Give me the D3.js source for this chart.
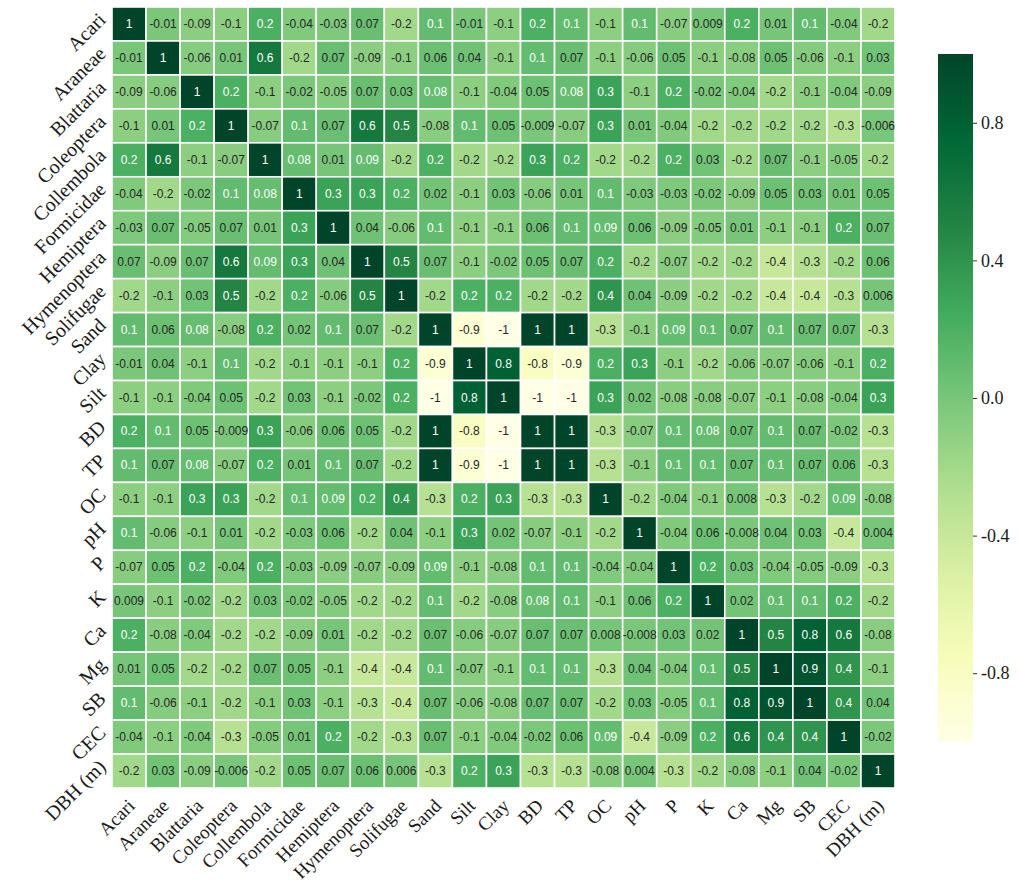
<!DOCTYPE html>
<html>
<head>
<meta charset="utf-8">
<script src="https://cdn.jsdelivr.net/npm/d3@7"></script>
<style>
  html, body { margin: 0; padding: 0; background: #ffffff; }
  svg { display: block; }
</style>
</head>
<body>
<svg id="chart" width="1020" height="894"></svg>
<script>
// ---- data ----
const xLabels = ["Acari","Araneae","Blattaria","Coleoptera","Collembola","Formicidae","Hemiptera","Hymenoptera","Solifugae","Sand","Silt","Clay","BD","TP","OC","pH","P","K","Ca","Mg","SB","CEC","DBH (m)"];
const yLabels = ["Acari","Araneae","Blattaria","Coleoptera","Collembola","Formicidae","Hemiptera","Hymenoptera","Solifugae","Sand","Clay","Silt","BD","TP","OC","pH","P","K","Ca","Mg","SB","CEC","DBH (m)"];
const corr = [
  [1,-0.01,-0.09,-0.1,0.2,-0.04,-0.03,0.07,-0.2,0.1,-0.01,-0.1,0.2,0.1,-0.1,0.1,-0.07,0.009,0.2,0.01,0.1,-0.04,-0.2],
  [-0.01,1,-0.06,0.01,0.6,-0.2,0.07,-0.09,-0.1,0.06,0.04,-0.1,0.1,0.07,-0.1,-0.06,0.05,-0.1,-0.08,0.05,-0.06,-0.1,0.03],
  [-0.09,-0.06,1,0.2,-0.1,-0.02,-0.05,0.07,0.03,0.08,-0.1,-0.04,0.05,0.08,0.3,-0.1,0.2,-0.02,-0.04,-0.2,-0.1,-0.04,-0.09],
  [-0.1,0.01,0.2,1,-0.07,0.1,0.07,0.6,0.5,-0.08,0.1,0.05,-0.009,-0.07,0.3,0.01,-0.04,-0.2,-0.2,-0.2,-0.2,-0.3,-0.006],
  [0.2,0.6,-0.1,-0.07,1,0.08,0.01,0.09,-0.2,0.2,-0.2,-0.2,0.3,0.2,-0.2,-0.2,0.2,0.03,-0.2,0.07,-0.1,-0.05,-0.2],
  [-0.04,-0.2,-0.02,0.1,0.08,1,0.3,0.3,0.2,0.02,-0.1,0.03,-0.06,0.01,0.1,-0.03,-0.03,-0.02,-0.09,0.05,0.03,0.01,0.05],
  [-0.03,0.07,-0.05,0.07,0.01,0.3,1,0.04,-0.06,0.1,-0.1,-0.1,0.06,0.1,0.09,0.06,-0.09,-0.05,0.01,-0.1,-0.1,0.2,0.07],
  [0.07,-0.09,0.07,0.6,0.09,0.3,0.04,1,0.5,0.07,-0.1,-0.02,0.05,0.07,0.2,-0.2,-0.07,-0.2,-0.2,-0.4,-0.3,-0.2,0.06],
  [-0.2,-0.1,0.03,0.5,-0.2,0.2,-0.06,0.5,1,-0.2,0.2,0.2,-0.2,-0.2,0.4,0.04,-0.09,-0.2,-0.2,-0.4,-0.4,-0.3,0.006],
  [0.1,0.06,0.08,-0.08,0.2,0.02,0.1,0.07,-0.2,1,-0.9,-1,1,1,-0.3,-0.1,0.09,0.1,0.07,0.1,0.07,0.07,-0.3],
  [-0.01,0.04,-0.1,0.1,-0.2,-0.1,-0.1,-0.1,0.2,-0.9,1,0.8,-0.8,-0.9,0.2,0.3,-0.1,-0.2,-0.06,-0.07,-0.06,-0.1,0.2],
  [-0.1,-0.1,-0.04,0.05,-0.2,0.03,-0.1,-0.02,0.2,-1,0.8,1,-1,-1,0.3,0.02,-0.08,-0.08,-0.07,-0.1,-0.08,-0.04,0.3],
  [0.2,0.1,0.05,-0.009,0.3,-0.06,0.06,0.05,-0.2,1,-0.8,-1,1,1,-0.3,-0.07,0.1,0.08,0.07,0.1,0.07,-0.02,-0.3],
  [0.1,0.07,0.08,-0.07,0.2,0.01,0.1,0.07,-0.2,1,-0.9,-1,1,1,-0.3,-0.1,0.1,0.1,0.07,0.1,0.07,0.06,-0.3],
  [-0.1,-0.1,0.3,0.3,-0.2,0.1,0.09,0.2,0.4,-0.3,0.2,0.3,-0.3,-0.3,1,-0.2,-0.04,-0.1,0.008,-0.3,-0.2,0.09,-0.08],
  [0.1,-0.06,-0.1,0.01,-0.2,-0.03,0.06,-0.2,0.04,-0.1,0.3,0.02,-0.07,-0.1,-0.2,1,-0.04,0.06,-0.008,0.04,0.03,-0.4,0.004],
  [-0.07,0.05,0.2,-0.04,0.2,-0.03,-0.09,-0.07,-0.09,0.09,-0.1,-0.08,0.1,0.1,-0.04,-0.04,1,0.2,0.03,-0.04,-0.05,-0.09,-0.3],
  [0.009,-0.1,-0.02,-0.2,0.03,-0.02,-0.05,-0.2,-0.2,0.1,-0.2,-0.08,0.08,0.1,-0.1,0.06,0.2,1,0.02,0.1,0.1,0.2,-0.2],
  [0.2,-0.08,-0.04,-0.2,-0.2,-0.09,0.01,-0.2,-0.2,0.07,-0.06,-0.07,0.07,0.07,0.008,-0.008,0.03,0.02,1,0.5,0.8,0.6,-0.08],
  [0.01,0.05,-0.2,-0.2,0.07,0.05,-0.1,-0.4,-0.4,0.1,-0.07,-0.1,0.1,0.1,-0.3,0.04,-0.04,0.1,0.5,1,0.9,0.4,-0.1],
  [0.1,-0.06,-0.1,-0.2,-0.1,0.03,-0.1,-0.3,-0.4,0.07,-0.06,-0.08,0.07,0.07,-0.2,0.03,-0.05,0.1,0.8,0.9,1,0.4,0.04],
  [-0.04,-0.1,-0.04,-0.3,-0.05,0.01,0.2,-0.2,-0.3,0.07,-0.1,-0.04,-0.02,0.06,0.09,-0.4,-0.09,0.2,0.6,0.4,0.4,1,-0.02],
  [-0.2,0.03,-0.09,-0.006,-0.2,0.05,0.07,0.06,0.006,-0.3,0.2,0.3,-0.3,-0.3,-0.08,0.004,-0.3,-0.2,-0.08,-0.1,0.04,-0.02,1]
];
const colorbarTicks = [-0.8, -0.4, 0.0, 0.4, 0.8];

// ---- layout ----
const gridLeft = 112, gridRight = 895, gridTop = 7, gridBottom = 788;
const cbLeft = 938, cbWidth = 35, cbTop = 54, cbBottom = 742;

const svg = d3.select("#chart");

const x = d3.scaleBand().domain(xLabels.map((d, i) => i)).range([gridLeft, gridRight]);
const y = d3.scaleBand().domain(yLabels.map((d, i) => i)).range([gridTop, gridBottom]);

const ylgn = d3.schemeYlGn[9];
const color = d3.scaleLinear()
  .domain(d3.range(9).map(i => -1 + i * 0.25))
  .range(ylgn)
  .clamp(true);

const cells = [];
corr.forEach((row, ri) => row.forEach((v, ci) => cells.push({ ri, ci, v })));

const g = svg.append("g");
g.selectAll("rect.cell").data(cells).join("rect")
  .attr("class", "cell")
  .attr("x", d => x(d.ci))
  .attr("y", d => y(d.ri))
  .attr("width", x.bandwidth())
  .attr("height", y.bandwidth())
  .attr("fill", d => color(d.v))
  .attr("stroke", "#ffffff")
  .attr("stroke-width", 1.6);

g.selectAll("text.val").data(cells).join("text")
  .attr("class", "val")
  .attr("x", d => x(d.ci) + x.bandwidth() / 2)
  .attr("y", d => y(d.ri) + y.bandwidth() / 2)
  .attr("text-anchor", "middle")
  .attr("dominant-baseline", "central")
  .attr("font-family", "'Liberation Sans', Arial, sans-serif")
  .attr("font-size", 12)
  .attr("fill", d => d.v > 0.075 ? "#ffffff" : "#262626")
  .text(d => String(d.v));

// y labels
svg.append("g").selectAll("text").data(yLabels).join("text")
  .attr("transform", (d, i) => `translate(${gridLeft - 5},${y(i) + y.bandwidth() / 2 - 3}) rotate(-45)`)
  .attr("text-anchor", "end")
  .attr("font-family", "'Liberation Serif', 'Times New Roman', serif")
  .attr("font-size", 20)
  .attr("fill", "#1a1a1a")
  .text(d => d);

// x labels
svg.append("g").selectAll("text").data(xLabels).join("text")
  .attr("transform", (d, i) => `translate(${x(i) + x.bandwidth() / 2 + 7},${gridBottom + 19}) rotate(-45)`)
  .attr("text-anchor", "end")
  .attr("font-family", "'Liberation Serif', 'Times New Roman', serif")
  .attr("font-size", 19)
  .attr("fill", "#1a1a1a")
  .text(d => d);

// colorbar
const cbScale = d3.scaleLinear().domain([-1, 1]).range([cbBottom, cbTop]);
const defs = svg.append("defs");
const grad = defs.append("linearGradient").attr("id", "cbgrad")
  .attr("x1", "0").attr("y1", "1").attr("x2", "0").attr("y2", "0");
d3.range(0, 1.0001, 0.02).forEach(t => {
  grad.append("stop").attr("offset", t).attr("stop-color", color(-1 + 2 * t));
});
svg.append("rect")
  .attr("x", cbLeft).attr("y", cbTop)
  .attr("width", cbWidth).attr("height", cbBottom - cbTop)
  .attr("fill", "url(#cbgrad)");

const cbAxis = d3.axisRight(cbScale)
  .tickValues(colorbarTicks)
  .tickSize(4)
  .tickPadding(4)
  .tickFormat(d => d.toFixed(1));
const cbG = svg.append("g")
  .attr("transform", `translate(${cbLeft + cbWidth},0)`)
  .call(cbAxis);
cbG.select(".domain").remove();
cbG.selectAll(".tick line").attr("stroke", "#333");
cbG.selectAll(".tick text")
  .attr("font-family", "'Liberation Serif', 'Times New Roman', serif")
  .attr("font-size", 18)
  .attr("fill", "#1a1a1a");
</script>
</body>
</html>
